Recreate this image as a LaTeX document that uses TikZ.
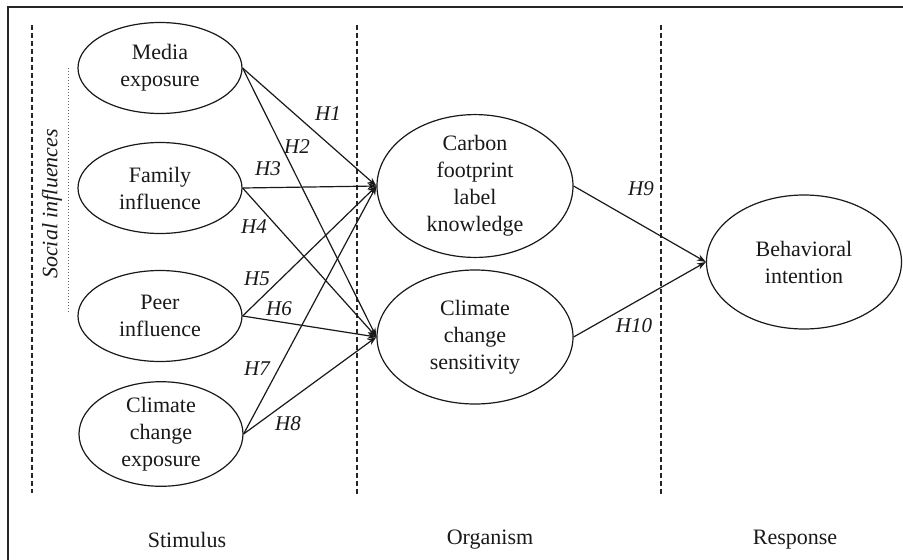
\documentclass[tikz,border=0pt]{standalone}
\usepackage{fontspec}
\setmainfont{Liberation Serif}
\usetikzlibrary{shapes.geometric,arrows.meta}
\begin{document}
\begin{tikzpicture}[x=1pt,y=-1pt,
  every node/.style={font=\fontsize{22}{27}\selectfont, text=black!90},
  ell/.style={draw=black!90, line width=1.2pt, ellipse, inner sep=0pt, align=center},
  hyp/.style={font=\fontsize{21}{25}\selectfont\itshape, inner sep=0pt},
  link/.style={draw=black!90, line width=1.2pt, -{Stealth[length=9pt,width=6.5pt]}},
  divider/.style={draw=black!85, line width=1.3pt, dash pattern=on 5pt off 3pt},
  stage/.style={font=\fontsize{22}{27}\selectfont}]
\useasboundingbox (0,0) rectangle (903,560);
\fill[white] (0,0) rectangle (903,560);
% frame (top and left edges visible)
\draw[line width=2pt, black!85] (8,560) -- (8,7) -- (903,7);
% dividers
\draw[divider] (32,25) -- (32,493);
\draw[divider] (357,25) -- (357,495);
\draw[divider] (661,25) -- (661,495);
\draw[black!60, line width=1pt, dotted] (68,68) -- (68,313);
\node[rotate=90, font=\fontsize{22}{27}\selectfont\itshape] (si) at (52,204) {Social influences};
% stimulus ellipses
\node[ell, minimum width=164pt, minimum height=91pt] (me) at (160,68) {Media\\exposure};
\node[ell, minimum width=164pt, minimum height=91pt] (fi) at (160,188) {Family\\influence};
\node[ell, minimum width=164pt, minimum height=91pt] (pi) at (160,316) {Peer\\influence};
\node[ell, minimum width=164pt, minimum height=95pt] (ce) at (161,434) {Climate\\change\\exposure};
% organism ellipses
\node[ell, minimum width=196pt, minimum height=135pt] (cf) at (475,186) {Carbon\\footprint\\label\\knowledge};
\node[ell, minimum width=196pt, minimum height=134pt] (cs) at (475,337) {Climate\\change\\sensitivity};
% response ellipse
\node[ell, minimum width=195pt, minimum height=134pt] (bi) at (804,262) {Behavioral\\intention};
% connectors
\draw[link] (me.east) -- (cf.west);
\draw[link] (me.east) -- (cs.west);
\draw[link] (fi.east) -- (cf.west);
\draw[link] (fi.east) -- (cs.west);
\draw[link] (pi.east) -- (cf.west);
\draw[link] (pi.east) -- (cs.west);
\draw[link] (ce.east) -- (cf.west);
\draw[link] (ce.east) -- (cs.west);
\draw[link] (cf.east) -- (bi.west);
\draw[link] (cs.east) -- (bi.west);
% hypothesis labels
\node[hyp] (h1) at (328,114) {H1};
\node[hyp] (h2) at (297,147) {H2};
\node[hyp] (h3) at (268,169) {H3};
\node[hyp] (h4) at (254,227) {H4};
\node[hyp] (h5) at (257,279) {H5};
\node[hyp] (h6) at (279,309) {H6};
\node[hyp] (h7) at (257,369) {H7};
\node[hyp] (h8) at (288,424) {H8};
\node[hyp] (h9) at (641,189) {H9};
\node[hyp] (h10) at (634,326) {H10};
% stage labels
\node[stage] (st) at (187,540) {Stimulus};
\node[stage] (or) at (490,540) {Organism};
\node[stage] (re) at (795,540) {Response};
\end{tikzpicture}
\end{document}
